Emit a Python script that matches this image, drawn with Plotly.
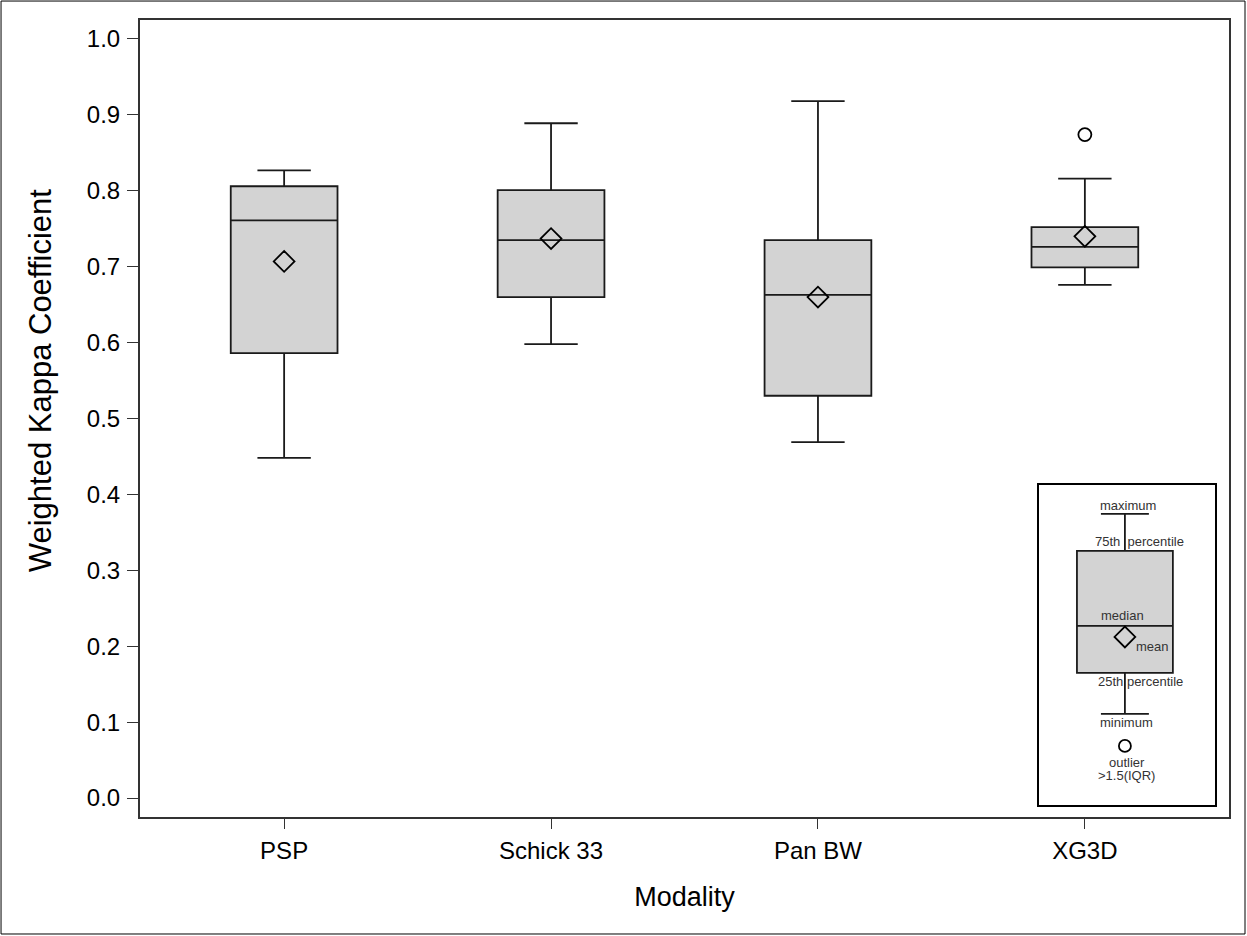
import plotly.graph_objects as go

categories = ["PSP", "Schick 33", "Pan BW", "XG3D"]
q1 = [0.586, 0.660, 0.530, 0.699]
median = [0.761, 0.735, 0.663, 0.726]
q3 = [0.806, 0.801, 0.735, 0.752]
whisker_low = [0.448, 0.598, 0.469, 0.676]
whisker_high = [0.827, 0.889, 0.918, 0.816]
means = [0.707, 0.737, 0.660, 0.740]
outlier_cat = ["XG3D"]
outlier_val = [0.874]

# legend inset (schematic, inset-axis units)
leg_stats = dict(q1=132, median=179, q3=254, low=91, high=291, mean=168, outlier=59)

FONT = "Liberation Sans, Arial, sans-serif"
BOXFILL = "#d3d3d3"

fig = go.Figure()

fig.add_trace(go.Box(
    x=categories, q1=q1, median=median, q3=q3,
    lowerfence=whisker_low, upperfence=whisker_high,
    fillcolor=BOXFILL, line=dict(color="#1a1a1a", width=1.8),
    width=0.4, whiskerwidth=0.5, showlegend=False, hoverinfo="skip",
))
fig.add_trace(go.Scatter(
    x=categories, y=means, mode="markers",
    marker=dict(symbol="diamond-open", size=16, color="#000", line=dict(width=1.8)),
    showlegend=False,
))
fig.add_trace(go.Scatter(
    x=outlier_cat, y=outlier_val, mode="markers",
    marker=dict(symbol="circle-open", size=13, color="#000", line=dict(width=1.8)),
    showlegend=False,
))

# inset legend
fig.add_trace(go.Box(
    x=[86], q1=[leg_stats["q1"]], median=[leg_stats["median"]], q3=[leg_stats["q3"]],
    lowerfence=[leg_stats["low"]], upperfence=[leg_stats["high"]],
    fillcolor=BOXFILL, line=dict(color="#1a1a1a", width=1.8),
    width=96, whiskerwidth=0.5, xaxis="x2", yaxis="y2", showlegend=False, hoverinfo="skip",
))
fig.add_trace(go.Scatter(
    x=[86], y=[leg_stats["mean"]], mode="markers", xaxis="x2", yaxis="y2",
    marker=dict(symbol="diamond-open", size=16, color="#000", line=dict(width=1.8)),
    showlegend=False,
))
fig.add_trace(go.Scatter(
    x=[86], y=[leg_stats["outlier"]], mode="markers", xaxis="x2", yaxis="y2",
    marker=dict(symbol="circle-open", size=12, color="#000", line=dict(width=1.8)),
    showlegend=False,
))

leg_texts = [
    ("maximum", 89, 299),
    ("75th  percentile", 101, 263),
    ("median", 84, 189),
    ("mean", 114, 158),
    ("25th percentile", 102, 123),
    ("minimum", 88, 82),
    ("outlier", 88, 42),
    (">1.5(IQR)", 88, 29),
]
annotations = []
for t, x, y in leg_texts:
    annotations.append(dict(text=t, x=x, y=y, xref="x2", yref="y2", showarrow=False,
                            font=dict(family=FONT, size=13, color="#333"),
                            xanchor="center", yanchor="middle"))

# y-axis title (placed as in the reference, slightly above plot centre)
annotations.append(dict(text="Weighted Kappa Coefficient", x=-0.0918, y=0.548,
                        xref="paper", yref="paper", showarrow=False, textangle=-90,
                        font=dict(family=FONT, size=31, color="#000"),
                        xanchor="center", yanchor="middle"))

fig.update_layout(
    width=1247, height=936,
    margin=dict(l=140, r=18, t=20, b=119),
    paper_bgcolor="white", plot_bgcolor="white",
    font=dict(family=FONT, color="#000"),
    xaxis=dict(
        type="category", categoryorder="array", categoryarray=categories,
        range=[-0.54, 3.54], showline=True, mirror=True, linecolor="#333", linewidth=2,
        ticks="outside", ticklen=10, tickcolor="#333", tickwidth=1.2,
        tickfont=dict(size=24), ticklabelstandoff=1, showgrid=False, zeroline=False,
        title=dict(text="Modality", font=dict(size=27), standoff=24),
    ),
    yaxis=dict(
        range=[-0.025, 1.025], tickvals=[0, 0.1, 0.2, 0.3, 0.4, 0.5, 0.6, 0.7, 0.8, 0.9, 1.0],
        tickformat=".1f", showline=True, mirror=True, linecolor="#333", linewidth=2,
        ticks="outside", ticklen=11, tickcolor="#333", tickwidth=1.2,
        tickfont=dict(size=24), ticklabelstandoff=2, showgrid=False, zeroline=False,
    ),
    xaxis2=dict(domain=[0.8255, 0.987], range=[0, 176], anchor="y2",
                showline=True, mirror=True, linecolor="#000", linewidth=1.5,
                showticklabels=False, ticks="", showgrid=False, zeroline=False),
    yaxis2=dict(domain=[0.0151, 0.4166], range=[0, 320], anchor="x2",
                showline=True, mirror=True, linecolor="#000", linewidth=1.5,
                showticklabels=False, ticks="", showgrid=False, zeroline=False),
    annotations=annotations,
    shapes=[dict(type="rect", xref="paper", yref="paper",
                 x0=-0.1276, x1=1.0147, y0=-0.1468, y1=1.0238,
                 line=dict(color="#000", width=1), fillcolor="rgba(0,0,0,0)", layer="below")],
)

fig.write_html("out.html", config={"displayModeBar": False},
               post_script="document.body.style.margin='0';document.body.style.overflow='hidden';")
